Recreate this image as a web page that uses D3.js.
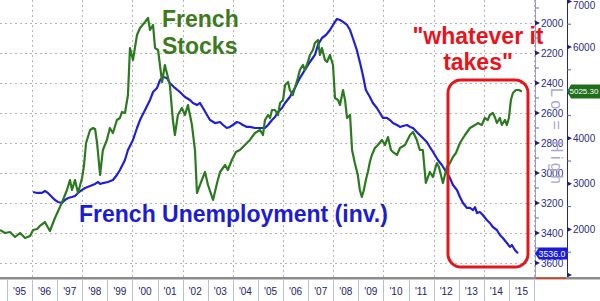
<!DOCTYPE html>
<html><head><meta charset="utf-8">
<script src="https://cdn.jsdelivr.net/npm/d3@7"></script>
<style>html,body{margin:0;padding:0;background:#fff;overflow:hidden}svg{display:block}</style>
</head><body>
<svg id="c" width="600" height="301"></svg>
<script>
// ---- data ----
const stockYears = [1994.72,1994.92,1995.12,1995.32,1995.52,1995.72,1995.92,1996.04,1996.20,1996.31,1996.51,1996.71,1996.91,1997.11,1997.23,1997.39,1997.51,1997.59,1997.71,1997.83,1997.99,1998.07,1998.15,1998.31,1998.43,1998.51,1998.59,1998.71,1998.82,1998.98,1999.10,1999.22,1999.38,1999.50,1999.58,1999.70,1999.82,1999.90,2000.02,2000.18,2000.30,2000.50,2000.62,2000.70,2000.82,2000.90,2001.02,2001.18,2001.29,2001.49,2001.61,2001.69,2001.81,2001.97,2002.09,2002.21,2002.37,2002.49,2002.57,2002.69,2002.89,2003.01,2003.21,2003.37,2003.49,2003.69,2003.80,2003.96,2004.12,2004.28,2004.48,2004.68,2004.88,2005.08,2005.20,2005.28,2005.40,2005.48,2005.56,2005.68,2005.80,2005.88,2006.00,2006.08,2006.20,2006.27,2006.39,2006.47,2006.59,2006.67,2006.79,2006.87,2006.99,2007.07,2007.19,2007.27,2007.39,2007.47,2007.55,2007.67,2007.75,2007.87,2007.99,2008.07,2008.19,2008.27,2008.39,2008.47,2008.55,2008.67,2008.75,2008.86,2008.98,2009.06,2009.14,2009.22,2009.30,2009.38,2009.46,2009.54,2009.66,2009.78,2009.94,2010.06,2010.18,2010.30,2010.38,2010.54,2010.66,2010.86,2011.06,2011.18,2011.33,2011.45,2011.57,2011.69,2011.85,2011.97,2012.13,2012.21,2012.37,2012.53,2012.65,2012.77,2012.89,2013.05,2013.25,2013.45,2013.65,2013.76,2013.92,2014.04,2014.16,2014.24,2014.36,2014.44,2014.52,2014.64,2014.72,2014.84,2014.92,2015.00,2015.08,2015.16,2015.28,2015.40,2015.52];
const stockValues = [1987,1921,1943,1833,1921,1811,1855,1987,2009,2075,2162,1965,2250,2491,2645,2864,3083,2864,3083,2798,3127,3412,3895,4180,4224,4202,3895,3193,3741,3961,4224,4114,4399,4443,4575,4553,4947,5978,5715,6263,6417,6548,6636,6373,6482,5978,5934,5232,5605,5167,4399,4070,4509,4662,4509,4728,4289,3741,2798,2974,3259,2974,2645,3018,3259,3412,3303,3522,3697,3741,3851,3961,4114,4180,4070,4399,4509,4443,4618,4618,4509,4772,4838,5167,5232,5057,4947,5101,5320,5496,5605,5496,5671,5825,5934,6088,6154,5825,5978,5715,5671,5825,5605,4882,4838,4728,5057,4838,4443,4509,3741,3456,3193,2864,2711,2864,3083,3259,3478,3632,3785,3851,3961,3851,4026,3741,3697,3632,3785,3851,4070,4136,3961,3741,3741,3018,3259,3149,3456,3368,3018,3368,3456,3588,3676,3895,4070,4224,4289,4333,4289,4443,4399,4509,4553,4465,4333,4443,4289,4399,4289,4443,4838,4991,5057,5057,5025];
const unempYears = [1996.04,1996.20,1996.39,1996.51,1996.63,1996.79,1996.91,1997.03,1997.19,1997.31,1997.43,1997.59,1997.71,1997.83,1997.99,1998.11,1998.31,1998.51,1998.63,1998.71,1998.82,1999.02,1999.22,1999.38,1999.50,1999.70,1999.82,2000.02,2000.18,2000.30,2000.50,2000.70,2000.82,2000.98,2001.10,2001.22,2001.37,2001.49,2001.69,2001.89,2002.09,2002.29,2002.41,2002.57,2002.69,2002.81,2002.97,2003.09,2003.29,2003.49,2003.61,2003.76,2003.88,2004.00,2004.16,2004.28,2004.40,2004.56,2004.68,2004.88,2005.08,2005.28,2005.40,2005.56,2005.68,2005.80,2005.96,2006.08,2006.27,2006.47,2006.67,2006.87,2007.07,2007.27,2007.39,2007.55,2007.71,2007.87,2007.99,2008.07,2008.15,2008.27,2008.39,2008.55,2008.67,2008.78,2008.94,2009.06,2009.18,2009.30,2009.46,2009.58,2009.74,2009.86,2009.98,2010.14,2010.26,2010.38,2010.54,2010.66,2010.78,2010.94,2011.06,2011.18,2011.33,2011.45,2011.57,2011.73,2011.85,2011.93,2012.05,2012.17,2012.33,2012.45,2012.65,2012.77,2012.93,2013.05,2013.17,2013.33,2013.45,2013.57,2013.65,2013.73,2013.84,2013.96,2014.12,2014.24,2014.36,2014.52,2014.64,2014.76,2014.92,2015.04,2015.12,2015.24,2015.36];
const unempValues = [3127,3133,3133,3120,3133,3160,3180,3193,3200,3180,3167,3160,3153,3133,3113,3100,3087,3073,3060,3073,3067,3060,3047,3013,2980,2913,2847,2780,2700,2647,2580,2513,2460,2433,2380,2360,2367,2400,2433,2460,2493,2513,2533,2547,2533,2567,2613,2647,2667,2660,2680,2700,2693,2680,2660,2667,2680,2693,2693,2700,2700,2700,2680,2647,2627,2593,2567,2533,2493,2433,2367,2313,2260,2213,2147,2100,2080,2047,2013,1993,1973,1980,1993,2013,2047,2100,2180,2260,2347,2447,2493,2533,2567,2600,2633,2633,2647,2667,2680,2693,2687,2680,2693,2700,2727,2747,2767,2793,2827,2847,2880,2913,2947,2980,3033,3080,3113,3160,3200,3233,3233,3247,3227,3267,3260,3280,3313,3333,3360,3380,3413,3433,3467,3493,3480,3513,3536];
const yearLabels = ["'95","'96","'97","'98","'99","'00","'01","'02","'03","'04","'05","'06","'07","'08","'09","'10","'11","'12","'13","'14","'15"];
const yearStarts = [1995,1996,1997,1998,1999,2000,2001,2002,2003,2004,2005,2006,2007,2008,2009,2010,2011,2012,2013,2014,2015];
const gridYears = [1996,1998,2000,2002,2004,2006,2008,2010,2012,2014,2016];
const unempTicks = [2000,2200,2400,2600,2800,3000,3200,3400,3600];
const stockTicks = [2000,3000,4000,5000,6000,7000];
const lastStock = "5025.30";
const lastUnemp = "3536.0";

// ---- scales ----
const svg = d3.select("#c");
const x = d3.scaleLinear().domain([1995, 2016]).range([7, 534]);
const yU = d3.scaleLinear().domain([2000, 3600]).range([23, 263]);
const yS = d3.scaleLinear().domain([1000, 7000]).range([275, 1.4]);
const plotL = 0, plotR = 535, plotB = 278;

// ---- gridlines ----
const grid = svg.append("g").attr("stroke", "#b4b4b4").attr("stroke-width", 1).attr("stroke-dasharray", "2,3");
unempTicks.forEach(v => grid.append("line").attr("x1", plotL).attr("x2", plotR).attr("y1", Math.round(yU(v)) + 0.5).attr("y2", Math.round(yU(v)) + 0.5));
gridYears.forEach(yr => grid.append("line").attr("x1", Math.round(x(yr)) + 0.5).attr("x2", Math.round(x(yr)) + 0.5).attr("y1", 0).attr("y2", plotB));

// ---- lines ----
const stockData = stockYears.map((d, i) => [d, stockValues[i]]);
const unempData = unempYears.map((d, i) => [d, unempValues[i]]);
svg.append("path").datum(unempData).attr("fill", "none").attr("stroke", "#1f1fd6").attr("stroke-width", 2.2)
  .attr("stroke-linejoin", "round").attr("d", d3.line().x(d => x(d[0])).y(d => yU(d[1])));
svg.append("path").datum(stockData).attr("fill", "none").attr("stroke", "#2c7a20").attr("stroke-width", 2.2)
  .attr("stroke-linejoin", "round").attr("d", d3.line().x(d => x(d[0])).y(d => yS(d[1])));

// ---- annotations ----
const ann = svg.append("g").attr("font-family", "Liberation Sans, Arial, sans-serif").attr("font-weight", "bold");
ann.append("text").attr("x", 162).attr("y", 27).attr("font-size", 23).attr("fill", "#3d7a22").text("French");
ann.append("text").attr("x", 162).attr("y", 54).attr("font-size", 23).attr("fill", "#3d7a22").text("Stocks");
ann.append("text").attr("x", 79).attr("y", 222).attr("font-size", 23).attr("fill", "#1c1cd2").text("French Unemployment (inv.)");
ann.append("text").attr("x", 478).attr("y", 44).attr("text-anchor", "middle").attr("font-size", 23).attr("fill", "#e8141c").text("\"whatever it");
ann.append("text").attr("x", 478).attr("y", 70).attr("text-anchor", "middle").attr("font-size", 23).attr("fill", "#e8141c").text("takes\"");
svg.append("rect").attr("x", 448).attr("y", 80).attr("width", 80).attr("height", 187).attr("rx", 13).attr("ry", 13)
  .attr("fill", "none").attr("stroke", "#e4161c").attr("stroke-width", 3);

// ---- right axes ----
const axisFont = "Liberation Sans, Arial, sans-serif";
const axU = svg.append("g");
axU.append("line").attr("x1", 535.5).attr("x2", 535.5).attr("y1", 0).attr("y2", plotB).attr("stroke", "#9a9ad4").attr("stroke-width", 1);
d3.range(1900, 3700, 100).forEach(v => {
  if (v % 200 !== 0) axU.append("line").attr("x1", 535).attr("x2", 539).attr("y1", yU(v)).attr("y2", yU(v)).attr("stroke", "#6a6ab0");
});
unempTicks.forEach(v => {
  const yy = yU(v);
  axU.append("path").attr("d", `M535,${yy - 2.5}L540,${yy}L535,${yy + 2.5}Z`).attr("fill", "#1e1e8a");
  axU.append("text").attr("x", 541).attr("y", yy + 3.5).attr("font-family", axisFont).attr("font-size", 10).attr("fill", "#2a2a86").text(v);
});
// Lo = High label
svg.append("text").attr("transform", "translate(551,88) rotate(90)").attr("font-family", axisFont).attr("font-size", 16)
  .attr("fill", "#a8a8d4").attr("textLength", 96).attr("lengthAdjust", "spacing").text("Lo = High");

const axS = svg.append("g");
axS.append("line").attr("x1", 567.5).attr("x2", 567.5).attr("y1", 0).attr("y2", plotB).attr("stroke", "#24248a").attr("stroke-width", 1);
d3.range(1500, 7000, 1000).forEach(v => axS.append("line").attr("x1", 567).attr("x2", 571).attr("y1", yS(v)).attr("y2", yS(v)).attr("stroke", "#5a5aa8"));
[1000].concat(stockTicks).forEach(v => {
  const yy = yS(v);
  axS.append("path").attr("d", `M567,${yy - 2.5}L572,${yy}L567,${yy + 2.5}Z`).attr("fill", "#1e1e8a");
});
const ys = yS(stockValues[stockValues.length - 1]);
stockTicks.forEach(v => {
  const yy = yS(v);
  if (Math.abs(yy - ys) < 12) return; // hidden behind the last-value flag
  axS.append("text").attr("x", 573).attr("y", Math.max(yy + 3.5, 9)).attr("font-family", axisFont).attr("font-size", 10).attr("fill", "#2a2a86").text(v);
});

// ---- last value labels ----
svg.append("path").attr("d", `M567,${ys}L571,${ys - 7}L600,${ys - 7}L600,${ys + 7}L571,${ys + 7}Z`).attr("fill", "#1f6e1c");
svg.append("text").attr("x", 569.5).attr("y", ys + 3).attr("font-family", axisFont).attr("font-size", 8)
  .attr("fill", "#fff").text(lastStock);
const yu = yU(unempValues[unempValues.length - 1]);
svg.append("path").attr("d", `M535,${yu}L539,${yu - 6}L567,${yu - 6}L567,${yu + 6}L539,${yu + 6}Z`).attr("fill", "#1a1ae0");
svg.append("text").attr("x", 538.5).attr("y", yu + 3.2).attr("font-family", axisFont).attr("font-size", 9)
  .attr("textLength", 27).attr("lengthAdjust", "spacingAndGlyphs").attr("fill", "#fff").text(lastUnemp);

// ---- bottom x axis ----
svg.append("rect").attr("x", 0).attr("y", 277).attr("width", 600).attr("height", 2.5).attr("fill", "#8c8c8c");
svg.append("rect").attr("x", 536).attr("y", 277.5).attr("width", 30).attr("height", 1.5).attr("fill", "#d84020");
const xa = svg.append("g");
yearStarts.concat([2016]).forEach(yr => xa.append("line").attr("x1", Math.round(x(yr)) + 0.5).attr("x2", Math.round(x(yr)) + 0.5)
  .attr("y1", 280).attr("y2", 301).attr("stroke", "#b8c0d8"));
yearStarts.forEach((yr, i) => xa.append("text").attr("x", x(yr + 0.5)).attr("y", 295).attr("text-anchor", "middle")
  .attr("font-family", axisFont).attr("font-size", 10).attr("fill", "#22226e").text(yearLabels[i]));
</script>
</body></html>
